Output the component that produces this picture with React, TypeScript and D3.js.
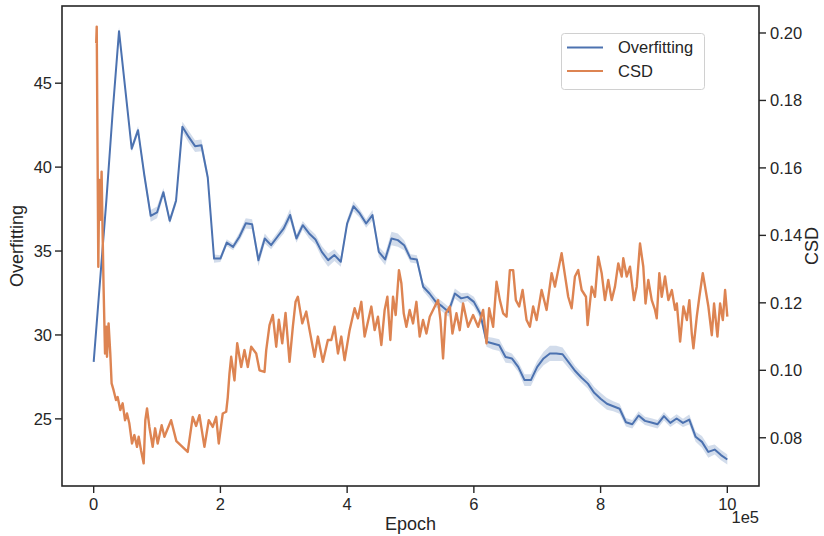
import React from "react";
import * as d3 from "d3";

// ---------- data ----------
// Overfitting: one value every 10,000 epochs (0 .. 1,000,000)
const overfitStep = 10000;
const overfitMean = [
  28.4, 33.2, 38.0, 43.3, 48.1, 44.6, 41.1, 42.2, 39.5, 37.1,
  37.3, 38.5, 36.8, 38.0, 42.4, 41.8, 41.25, 41.3, 39.4, 34.55,
  34.55, 35.5, 35.25, 35.85, 36.65, 36.6, 34.45, 35.75, 35.35, 35.85,
  36.35, 37.15, 35.75, 36.54, 36.05, 35.69, 34.95, 34.46, 34.76, 34.36,
  36.64, 37.67, 37.24, 36.64, 37.14, 34.95, 34.5, 35.75, 35.65, 35.35,
  34.56, 34.5, 32.87, 32.47, 31.97, 31.7, 31.38, 32.47, 32.18, 32.27,
  31.97, 31.28, 29.59, 29.49, 29.39, 28.69, 28.6, 28.1, 27.31, 27.31,
  28.1, 28.6, 28.9, 28.9, 28.85, 28.35, 27.85, 27.45, 27.1, 26.55,
  26.2, 25.9, 25.75, 25.6, 24.8, 24.68, 25.2, 24.88, 24.78, 24.68,
  25.16, 24.76, 25.02, 24.76, 24.96, 23.93, 23.63, 23.03, 23.17, 22.84,
  22.58,
];
const overfitCiHalf = [
  0.1, 0.15, 0.2, 0.2, 0.25, 0.2, 0.2, 0.25, 0.3, 0.35,
  0.35, 0.25, 0.2, 0.25, 0.3, 0.35, 0.35, 0.35, 0.3, 0.25,
  0.2, 0.2, 0.2, 0.25, 0.3, 0.3, 0.35, 0.3, 0.25, 0.25,
  0.3, 0.35, 0.25, 0.25, 0.3, 0.3, 0.35, 0.4, 0.35, 0.3,
  0.25, 0.3, 0.25, 0.25, 0.3, 0.3, 0.35, 0.4, 0.4, 0.3,
  0.25, 0.25, 0.25, 0.3, 0.3, 0.3, 0.3, 0.3, 0.3, 0.25,
  0.3, 0.3, 0.3, 0.35, 0.35, 0.35, 0.3, 0.3, 0.35, 0.35,
  0.35, 0.4, 0.45, 0.45, 0.4, 0.35, 0.3, 0.3, 0.3, 0.35,
  0.35, 0.35, 0.3, 0.3, 0.25, 0.25, 0.25, 0.25, 0.25, 0.25,
  0.25, 0.25, 0.25, 0.25, 0.3, 0.3, 0.35, 0.35, 0.3, 0.3,
  0.3,
];

// CSD: epochs (thousands) and values
const csdEpochK = [
  4.0, 4.8, 7.3, 8.8, 10.4, 12.5, 14.1, 15.6, 17.9, 19.9,
  21.0, 23.5, 26.2, 28.3, 31.4, 35.2, 37.8, 42.0, 45.7, 49.5,
  52.6, 56.3, 60.5, 64.2, 68.4, 71.0, 74.7, 78.9, 81.5, 84.2,
  87.9, 93.1, 96.9, 101.0, 107.3, 111.6, 122.2, 130.5, 148.4, 156.3,
  161.7, 166.9, 174.8, 181.6, 187.9, 193.3, 197.4, 203.7, 209.1, 211.6,
  214.3, 217.0, 222.2, 226.5, 232.8, 238.0, 243.2, 248.6, 256.5, 261.7,
  269.6, 272.3, 277.5, 282.7, 288.1, 292.2, 297.6, 302.8, 309.1, 314.3,
  318.6, 322.2, 329.2, 335.5, 340.7, 348.6, 353.8, 361.7, 369.6, 375.0,
  380.2, 385.5, 390.8, 396.0, 403.9, 411.8, 417.0, 422.4, 427.6, 432.8,
  438.2, 443.4, 448.6, 454.0, 459.2, 463.5, 468.2, 472.4, 476.6, 481.8,
  485.6, 489.3, 493.5, 498.7, 504.0, 509.3, 514.5, 519.8, 525.1, 530.4,
  538.3, 543.5, 547.3, 551.4, 555.6, 562.0, 566.2, 572.5, 577.7, 583.0,
  590.9, 598.8, 606.7, 614.6, 620.0, 624.1, 630.4, 635.8, 641.0, 646.2,
  651.6, 656.8, 662.0, 666.3, 671.5, 676.9, 683.2, 688.4, 693.6, 699.0,
  706.9, 714.8, 722.7, 727.9, 733.1, 738.5, 745.3, 748.9, 754.3, 759.5,
  764.7, 770.1, 776.9, 779.5, 785.9, 791.1, 796.3, 801.7, 806.9, 812.1,
  817.5, 822.7, 827.9, 833.3, 835.8, 841.2, 846.4, 852.7, 857.0, 862.2,
  867.4, 870.9, 875.3, 880.7, 885.9, 888.6, 892.7, 896.5, 901.7, 907.0,
  912.4, 917.6, 920.3, 925.5, 930.7, 936.1, 940.1, 943.9, 946.5, 951.8,
  955.9, 961.3, 964.9, 970.1, 975.5, 979.1, 984.4, 988.6, 992.9, 996.5,
  1000.0,
];
const csdValue = [
  0.197, 0.2019, 0.1307, 0.1564, 0.1446, 0.1589, 0.1406, 0.1248, 0.105, 0.1129,
  0.104, 0.1139, 0.105, 0.0961, 0.0941, 0.0912, 0.0921, 0.0882, 0.0902, 0.0852,
  0.0872, 0.0842, 0.0783, 0.0808, 0.0773, 0.0803, 0.0763, 0.0724, 0.0852, 0.0887,
  0.0832, 0.0773, 0.0828, 0.0783, 0.0837, 0.0803, 0.0852, 0.079, 0.0758, 0.0862,
  0.0835, 0.0867, 0.0773, 0.0852, 0.0832, 0.0862, 0.0783, 0.0872, 0.0877, 0.092,
  0.099, 0.104, 0.097, 0.108, 0.101, 0.106, 0.101, 0.107, 0.105, 0.1,
  0.0995, 0.106, 0.1134, 0.1164, 0.107, 0.115, 0.108, 0.117, 0.1025, 0.1129,
  0.1203, 0.1218, 0.1139, 0.1174, 0.1119, 0.104, 0.11, 0.1025, 0.109, 0.109,
  0.1129, 0.105, 0.11, 0.103, 0.1119, 0.1184, 0.1154, 0.1203, 0.11, 0.1144,
  0.1189, 0.1119, 0.1159, 0.1075, 0.1179, 0.1218, 0.109, 0.1218, 0.1164, 0.1297,
  0.1258, 0.1169, 0.1129, 0.1179, 0.1139, 0.1203, 0.11, 0.1149, 0.1109, 0.1159,
  0.1189, 0.1208, 0.1149, 0.1035, 0.1169, 0.1189, 0.1109, 0.1169, 0.1119, 0.1198,
  0.1129, 0.1164, 0.1129, 0.1179, 0.108, 0.1184, 0.1129, 0.1263, 0.1208, 0.1169,
  0.1159, 0.1297, 0.1297, 0.1208, 0.1189, 0.1238, 0.1149, 0.1129, 0.1189, 0.1149,
  0.1238, 0.1179, 0.1288, 0.1248, 0.1297, 0.1347, 0.1263, 0.1218, 0.1184, 0.1278,
  0.1297, 0.1238, 0.1218, 0.1134, 0.1248, 0.1218, 0.1337, 0.1288, 0.1208, 0.1268,
  0.1208, 0.1248, 0.1317, 0.1278, 0.1332, 0.1278, 0.1307, 0.1208, 0.1248, 0.1376,
  0.1307, 0.1198, 0.1268, 0.1208, 0.1179, 0.1154, 0.1288, 0.1218, 0.1278, 0.1208,
  0.1238, 0.1179, 0.1198, 0.1085, 0.1189, 0.1149, 0.1208, 0.1109, 0.1065, 0.1159,
  0.1218, 0.1288, 0.1248, 0.1189, 0.1104, 0.1198, 0.11, 0.1198, 0.1149, 0.1238,
  0.1159,
];

const xTicks = [0, 200000, 400000, 600000, 800000, 1000000];
const xTickLabels = ["0", "2", "4", "6", "8", "10"];
const leftTicks = [25, 30, 35, 40, 45];
const rightTicks = [0.08, 0.1, 0.12, 0.14, 0.16, 0.18, 0.2];
const seriesNames = ["Overfitting", "CSD"];

// ---------- style ----------
const W = 824;
const H = 536;
const M = { left: 62, right: 759, top: 6, bottom: 486 };
const BLUE = "#4c72b0";
const ORANGE = "#dd8452";
const INK = "#262626";
const FONT = "'Liberation Sans', Arial, Helvetica, sans-serif";
const TICK_FS = 16.5;
const LABEL_FS = 18;

export default function App() {
  const x = d3.scaleLinear().domain([-50000, 1050000]).range([M.left, M.right]);
  const yL = d3.scaleLinear().domain([21.0, 49.6]).range([M.bottom, M.top]);
  const yR = d3.scaleLinear().domain([0.0657, 0.208]).range([M.bottom, M.top]);

  const ofData = overfitMean.map((v, i) => ({
    e: i * overfitStep,
    v,
    lo: v - overfitCiHalf[i],
    hi: v + overfitCiHalf[i],
  }));
  const csdData = csdEpochK.map((k, i) => ({ e: k * 1000, v: csdValue[i] }));

  const band = d3
    .area<{ e: number; lo: number; hi: number }>()
    .x((d) => x(d.e))
    .y0((d) => yL(d.lo))
    .y1((d) => yL(d.hi))(ofData) as string;
  const ofLine = d3
    .line<{ e: number; v: number }>()
    .x((d) => x(d.e))
    .y((d) => yL(d.v))(ofData) as string;
  const csdLine = d3
    .line<{ e: number; v: number }>()
    .x((d) => x(d.e))
    .y((d) => yR(d.v))(csdData) as string;

  const fmtR = d3.format(".2f");
  const tickLen = 7;
  const midY = (M.top + M.bottom) / 2;

  return (
    <svg
      width={W}
      height={H}
      style={{ position: "absolute", left: 0, top: 0, background: "#fff" }}
      fontFamily={FONT}
    >
      <rect x={0} y={0} width={W} height={H} fill="#fff" />
      <defs>
        <clipPath id="plotclip">
          <rect x={M.left} y={M.top} width={M.right - M.left} height={M.bottom - M.top} />
        </clipPath>
      </defs>

      <g clipPath="url(#plotclip)">
        <path d={band} fill={BLUE} fillOpacity={0.25} stroke="none" />
        <path d={ofLine} fill="none" stroke={BLUE} strokeWidth={2} strokeLinejoin="round" />
        <path d={csdLine} fill="none" stroke={ORANGE} strokeWidth={2.4} strokeLinejoin="round" />
      </g>

      {/* frame */}
      <rect
        x={M.left}
        y={M.top}
        width={M.right - M.left}
        height={M.bottom - M.top}
        fill="none"
        stroke={INK}
        strokeWidth={1.6}
      />

      {/* x axis */}
      {xTicks.map((t, i) => (
        <g key={"x" + t}>
          <line x1={x(t)} x2={x(t)} y1={M.bottom} y2={M.bottom + tickLen} stroke={INK} strokeWidth={1.4} />
          <text x={x(t)} y={M.bottom + 24} textAnchor="middle" fontSize={TICK_FS} fill={INK}>
            {xTickLabels[i]}
          </text>
        </g>
      ))}
      <text x={M.right} y={M.bottom + 37} textAnchor="end" fontSize={TICK_FS} fill={INK}>
        1e5
      </text>
      <text x={(M.left + M.right) / 2} y={M.bottom + 44} textAnchor="middle" fontSize={LABEL_FS} fill={INK}>
        Epoch
      </text>

      {/* left axis */}
      {leftTicks.map((t) => (
        <g key={"l" + t}>
          <line x1={M.left - tickLen} x2={M.left} y1={yL(t)} y2={yL(t)} stroke={INK} strokeWidth={1.4} />
          <text x={M.left - 10} y={yL(t)} dy="0.35em" textAnchor="end" fontSize={TICK_FS} fill={INK}>
            {t}
          </text>
        </g>
      ))}
      <text
        transform={`translate(23,${midY}) rotate(-90)`}
        textAnchor="middle"
        fontSize={LABEL_FS}
        fill={INK}
      >
        Overfitting
      </text>

      {/* right axis */}
      {rightTicks.map((t) => (
        <g key={"r" + t}>
          <line x1={M.right} x2={M.right + tickLen} y1={yR(t)} y2={yR(t)} stroke={INK} strokeWidth={1.4} />
          <text x={M.right + 11} y={yR(t)} dy="0.35em" textAnchor="start" fontSize={TICK_FS} fill={INK}>
            {fmtR(t)}
          </text>
        </g>
      ))}
      <text
        transform={`translate(818,${midY}) rotate(-90)`}
        textAnchor="middle"
        fontSize={LABEL_FS}
        fill={INK}
      >
        CSD
      </text>

      {/* legend */}
      <g>
        <rect x={561.5} y={33.5} width={143} height={56} rx={3} fill="#fff" fillOpacity={0.8} stroke="#d0d0d0" strokeWidth={1} />
        {seriesNames.map((name, i) => (
          <g key={name}>
            <line
              x1={567}
              x2={603}
              y1={47.5 + i * 23.5}
              y2={47.5 + i * 23.5}
              stroke={i === 0 ? BLUE : ORANGE}
              strokeWidth={2}
            />
            <text x={618} y={47.5 + i * 23.5} dy="0.35em" fontSize={TICK_FS} fill={INK}>
              {name}
            </text>
          </g>
        ))}
      </g>
    </svg>
  );
}
